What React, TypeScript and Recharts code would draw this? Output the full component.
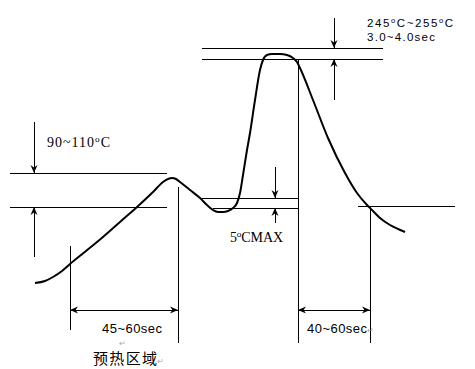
import React from "react";
import { ComposedChart, Line, XAxis, YAxis, ReferenceLine, ReferenceDot } from "recharts";

// Reflow profile curve (time axis units -> horizontal, temperature units -> vertical, drawn top-down)
const curveTime = [35, 45, 53, 62, 70, 86, 103, 120, 137, 153, 163, 168, 172, 176, 180, 190, 200, 207, 213, 218, 223, 228, 233, 237, 240, 243, 247, 250, 255, 260, 263, 267, 272, 280, 287, 293, 297, 300, 313, 328, 345, 357, 367, 372, 380, 390, 398, 405];
const curveTemp = [283, 281, 277, 271, 264, 251, 237, 222, 207, 192, 182, 179, 178, 179, 182, 190, 198, 205, 210, 212, 212, 211, 208, 203, 193, 175, 150, 133, 100, 70, 60, 55, 54, 54, 55, 58, 62, 68, 100, 138, 173, 193, 205, 210, 218, 225, 229, 232];

// Guide lines [from, to, level]
const hGuides = [
  [202, 383, 48],
  [202, 383, 59],
  [10, 167, 173],
  [10, 167, 207],
  [200, 298, 198],
  [213, 298, 208],
  [358, 455, 206],
];
const vGuides = [
  [70, 246, 330],
  [178, 187, 343],
  [298, 59, 343],
  [370, 206, 343],
];
// Arrows: [x1, y1, x2, y2, heads]
const arrows: [number, number, number, number, string][] = [
  [334, 18, 334, 48, "end"],
  [334, 59, 334, 100, "start"],
  [34, 122, 34, 173, "end"],
  [34, 207, 34, 257, "start"],
  [275, 167, 275, 198, "end"],
  [275, 208, 275, 223, "start"],
  [70, 310, 178, 310, "both"],
  [298, 310, 370, 310, "both"],
];

const peakLabel1 = "245ºC~255ºC";
const peakLabel2 = "3.0~4.0sec";
const soakLabel = "90~110ºC";
const deltaLabel = "5ºCMAX";
const preheatTime = "45~60sec";
const reflowTime = "40~60sec";
const preheatZone = "预热区域";

const data = curveTime.map((t, i) => ({ t, temp: curveTemp[i] }));

const SANS = "'Liberation Sans', Arial, sans-serif";
const SERIF = "'Liberation Serif', 'Times New Roman', serif";
const CJK = "'Noto Sans CJK SC', sans-serif";

function renderWithSup(str: string, fs: number) {
  const parts = str.split("º");
  const out: React.ReactNode[] = [];
  parts.forEach((p, i) => {
    if (i > 0) {
      out.push(
        <tspan key={"s" + i} dy={-fs * 0.36} fontSize={fs * 0.66}>o</tspan>
      );
      out.push(
        <tspan key={"p" + i} dy={fs * 0.36}>{p}</tspan>
      );
    } else {
      out.push(<tspan key={"p" + i}>{p}</tspan>);
    }
  });
  return out;
}

const textShape = (str: string, font: string, fs: number, width: number) => (p: any) => (
  <text
    x={p.cx}
    y={p.cy}
    fontFamily={font}
    fontSize={fs}
    fill="#000"
    textLength={width}
    lengthAdjust="spacing"
  >
    {renderWithSup(str, fs)}
  </text>
);

const markShape = () => (p: any) => (
  <text x={p.cx} y={p.cy} fontFamily={SANS} fontSize={8} fill="#aaa">↵</text>
);

const arrowShape = (heads: string) => (p: any) => {
  const { x1, y1, x2, y2 } = p;
  const dx = x2 - x1;
  const dy = y2 - y1;
  const len = Math.hypot(dx, dy) || 1;
  const ux = dx / len;
  const uy = dy / len;
  const L = 8;
  const W = 3.5;
  const head = (tx: number, ty: number, dx0: number, dy0: number) => {
    const bx = tx - dx0 * L;
    const by = ty - dy0 * L;
    const nx = tx - dx0 * L * 0.7;
    const ny = ty - dy0 * L * 0.7;
    const px = -dy0 * W;
    const py = dx0 * W;
    return `${tx},${ty} ${bx + px},${by + py} ${nx},${ny} ${bx - px},${by - py}`;
  };
  return (
    <g>
      <line x1={x1} y1={y1} x2={x2} y2={y2} stroke="#000" strokeWidth={1} shapeRendering="crispEdges" />
      {(heads === "end" || heads === "both") && <polygon points={head(x2, y2, ux, uy)} fill="#000" />}
      {(heads === "start" || heads === "both") && <polygon points={head(x1, y1, -ux, -uy)} fill="#000" />}
    </g>
  );
};

export default function App() {
  return (
    <div style={{ position: "absolute", left: 0, top: 0, background: "#fff" }}>
      <ComposedChart width={475} height={369} data={data} margin={{ top: 0, right: 0, bottom: 0, left: 0 }}>
        <XAxis type="number" dataKey="t" domain={[0, 475]} hide />
        <YAxis type="number" domain={[0, 369]} reversed hide />
        {hGuides.map(([a, b, y], i) => (
          <ReferenceLine
            key={"h" + i}
            segment={[{ x: a, y }, { x: b, y }]}
            stroke="#000"
            strokeWidth={1}
            shape={arrowShape("none")}
          />
        ))}
        {vGuides.map(([x, a, b], i) => (
          <ReferenceLine
            key={"v" + i}
            segment={[{ x, y: a }, { x, y: b }]}
            stroke="#000"
            strokeWidth={1}
            shape={arrowShape("none")}
          />
        ))}
        {arrows.map(([xa, ya, xb, yb, h], i) => (
          <ReferenceLine
            key={"a" + i}
            segment={[{ x: xa, y: ya }, { x: xb, y: yb }]}
            stroke="#000"
            shape={arrowShape(h)}
          />
        ))}
        <Line
          dataKey="temp"
          type="monotone"
          stroke="#000"
          strokeWidth={2}
          dot={false}
          activeDot={false}
          isAnimationActive={false}
        />
        <ReferenceDot x={367} y={27} r={0} shape={textShape(peakLabel1, SANS, 11.5, 86)} />
        <ReferenceDot x={367} y={41} r={0} shape={textShape(peakLabel2, SANS, 11.5, 68)} />
        <ReferenceDot x={47} y={147} r={0} shape={textShape(soakLabel, SERIF, 14, 63)} />
        <ReferenceDot x={230} y={242} r={0} shape={textShape(deltaLabel, SERIF, 14, 53)} />
        <ReferenceDot x={102} y={333} r={0} shape={textShape(preheatTime, SANS, 13, 60)} />
        <ReferenceDot x={307} y={333} r={0} shape={textShape(reflowTime, SANS, 13, 60)} />
        <ReferenceDot x={93} y={364} r={0} shape={textShape(preheatZone, CJK, 15, 64)} />
        <ReferenceDot x={119} y={346} r={0} shape={markShape()} />
        <ReferenceDot x={157} y={364} r={0} shape={markShape()} />
        <ReferenceDot x={367} y={333} r={0} shape={markShape()} />
      </ComposedChart>
    </div>
  );
}
